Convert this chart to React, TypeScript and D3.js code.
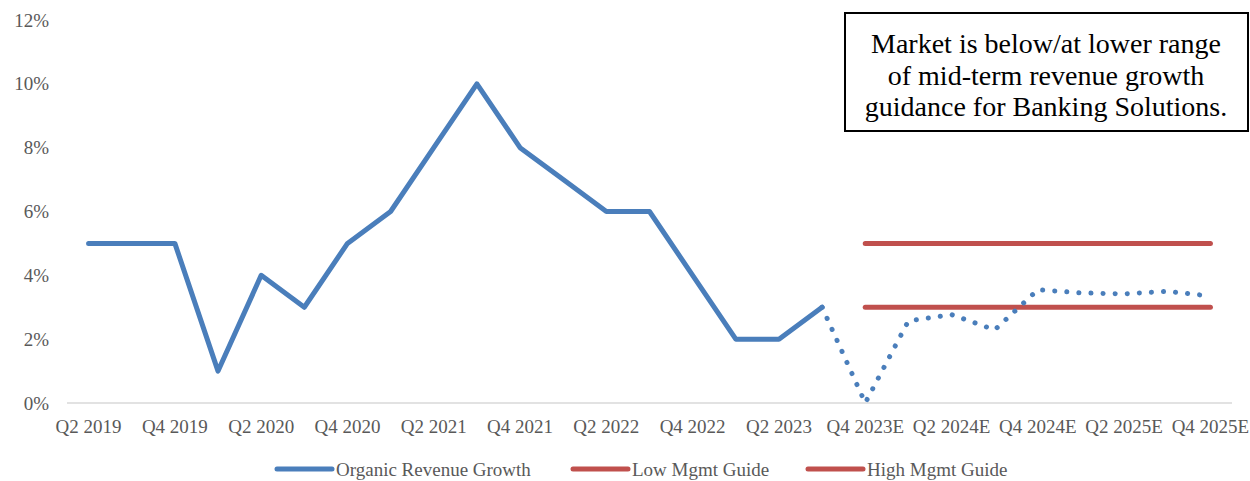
import React from "react";
import * as d3 from "d3";

const categories = [
  "Q2 2019", "Q3 2019", "Q4 2019", "Q1 2020", "Q2 2020", "Q3 2020", "Q4 2020",
  "Q1 2021", "Q2 2021", "Q3 2021", "Q4 2021", "Q1 2022", "Q2 2022", "Q3 2022",
  "Q4 2022", "Q1 2023", "Q2 2023", "Q3 2023", "Q4 2023E", "Q1 2024E", "Q2 2024E",
  "Q3 2024E", "Q4 2024E", "Q1 2025E", "Q2 2025E", "Q3 2025E", "Q4 2025E",
];

// Organic revenue growth (actual), %
const actualCats = categories.slice(0, 18);
const actualValues = [5, 5, 5, 1, 4, 3, 5, 6, 8, 10, 8, 7, 6, 6, 4, 2, 2, 3];

// Market forecast (dotted), %
const forecastCats = categories.slice(17);
const forecastValues = [3, 0, 2.57, 2.77, 2.29, 3.55, 3.45, 3.42, 3.5, 3.35];

// Management guidance, %
const guideCats = categories.slice(18);
const lowGuide = [3, 3, 3, 3, 3, 3, 3, 3, 3];
const highGuide = [5, 5, 5, 5, 5, 5, 5, 5, 5];

const yTicks = [0, 2, 4, 6, 8, 10, 12];
const xTickLabels = categories.filter((_, i) => i % 2 === 0);

const legendItems = [
  { label: "Organic Revenue Growth", color: "#4a7ebb" },
  { label: "Low Mgmt Guide", color: "#c0504d" },
  { label: "High Mgmt Guide", color: "#c0504d" },
];

const note = [
  "Market is below/at lower range",
  "of mid-term revenue growth",
  "guidance for Banking Solutions.",
];

export default function App() {
  const W = 1250, H = 481;
  const font = "'Liberation Serif', 'Times New Roman', serif";
  const blue = "#4a7ebb";
  const red = "#c0504d";

  const x = d3.scalePoint<string>().domain(categories).range([67, 1232]).padding(0.5);
  const y = d3.scaleLinear().domain([0, 12]).range([403, 20]);

  const line = d3.line<[string, number]>()
    .x((d) => x(d[0]) as number)
    .y((d) => y(d[1]));

  const actualPath = line(actualCats.map((c, i) => [c, actualValues[i]]) as [string, number][]) || "";
  const forecastPath = line(forecastCats.map((c, i) => [c, forecastValues[i]]) as [string, number][]) || "";
  const lowPath = line(guideCats.map((c, i) => [c, lowGuide[i]]) as [string, number][]) || "";
  const highPath = line(guideCats.map((c, i) => [c, highGuide[i]]) as [string, number][]) || "";

  const legendX = [277, 573, 808];
  const legendY = 469;

  return (
    <svg width={W} height={H} style={{ position: "absolute", left: 0, top: 0, background: "#fff" }} fontFamily={font}>
      <rect x={0} y={0} width={W} height={H} fill="#fff" />
      {/* axis line */}
      <line x1={67} x2={1232} y1={y(0)} y2={y(0)} stroke="#d9d9d9" strokeWidth={1.5} />
      {/* y ticks */}
      {yTicks.map((t) => (
        <text key={t} x={49} y={y(t)} dy="0.35em" textAnchor="end" fontSize={19} fill="#595959">
          {t}%
        </text>
      ))}
      {/* x ticks */}
      {xTickLabels.map((c) => (
        <text key={c} x={x(c) as number} y={433} textAnchor="middle" fontSize={19} fill="#595959">
          {c}
        </text>
      ))}
      {/* guides */}
      <path d={highPath} fill="none" stroke={red} strokeWidth={5} strokeLinecap="round" />
      <path d={lowPath} fill="none" stroke={red} strokeWidth={5} strokeLinecap="round" />
      {/* actual */}
      <path d={actualPath} fill="none" stroke={blue} strokeWidth={5} strokeLinejoin="round" strokeLinecap="round" />
      {/* forecast dotted */}
      <path d={forecastPath} fill="none" stroke={blue} strokeWidth={5} strokeLinecap="round" strokeDasharray="0.1 12" />
      {/* legend */}
      {legendItems.map((it, i) => (
        <g key={it.label}>
          <line x1={legendX[i]} x2={legendX[i] + 55} y1={legendY} y2={legendY} stroke={it.color} strokeWidth={5} strokeLinecap="round" />
          <text x={legendX[i] + 59} y={legendY} dy="0.35em" fontSize={19} fill="#595959">
            {it.label}
          </text>
        </g>
      ))}
      {/* note box */}
      <rect x={845} y={13} width={403} height={118} fill="#fff" stroke="#000" strokeWidth={2} />
      {note.map((t, i) => (
        <text key={i} x={1046} y={53 + i * 31.5} textAnchor="middle" fontSize={28} fill="#000">
          {t}
        </text>
      ))}
    </svg>
  );
}
